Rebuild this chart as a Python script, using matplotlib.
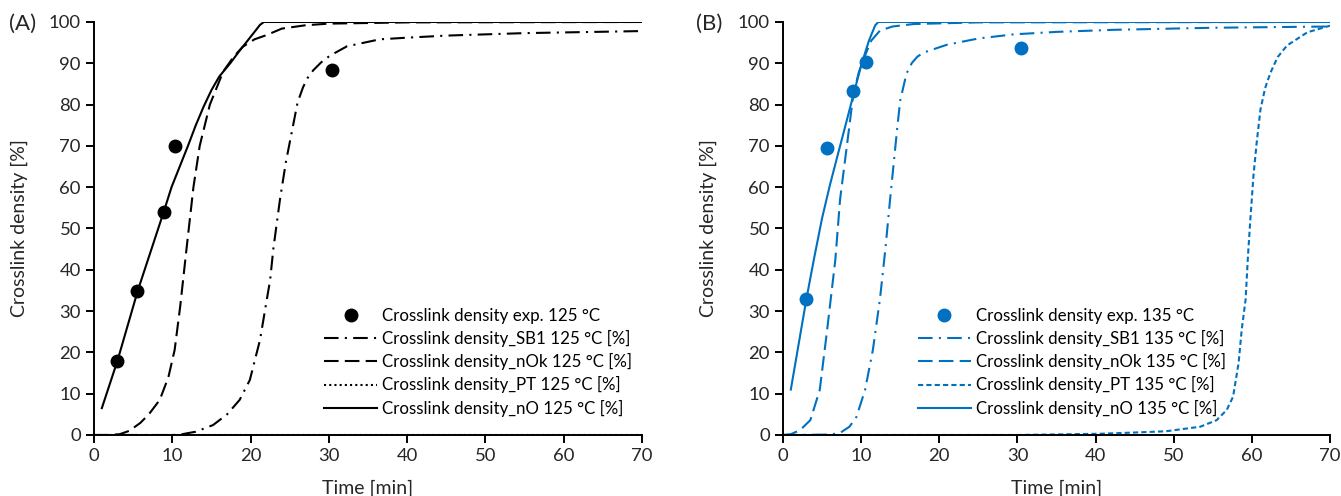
import matplotlib
matplotlib.use("Agg")
import matplotlib.pyplot as plt

plt.rcParams['font.family'] = ['Lato', 'DejaVu Sans']

# ---- data ----
# panel A, 125 °C
a_exp_t = [3, 5.5, 8.9, 10.4, 30.4]
a_exp_y = [18, 34.8, 54, 70, 88.4]

a_sb1_t = [0, 10, 11, 13, 15.2, 17, 18.6, 19.9, 21.2, 22.5, 22.9, 23.75, 24.5, 25.4, 26, 26.7, 27.3, 28, 29, 30.1, 32.3, 36.5, 40, 45, 55, 70]
a_sb1_y = [0, 0, 0.1, 0.8, 2.4, 5, 8.5, 13.3, 23, 37.6, 45, 57, 66, 74.7, 80.5, 84.2, 86.5, 88.3, 90.2, 91.8, 94.1, 95.8, 96.2, 96.7, 97.3, 97.8]

a_nok_t = [0, 2, 3.3, 4.5, 5.9, 7, 8.4, 9.5, 10.3, 11, 11.8, 12.7, 13.5, 14.8, 16.5, 17.8, 19, 20.5, 22, 24, 27, 30, 40, 70]
a_nok_y = [0, 0, 0.2, 1, 2.9, 5, 8.5, 14, 20.6, 31, 44.8, 60, 70, 80, 88, 91.5, 94, 95.8, 96.8, 98.4, 99.2, 99.6, 99.9, 100]

a_pt_t = [0, 70]
a_pt_y = [0, 0]

a_no_t = [1, 3, 5.6, 8.9, 9.9, 12, 13, 14, 15, 16, 17.4, 18.5, 19.5, 20.5, 21.2, 21.7, 70]
a_no_y = [6.5, 18, 35, 54, 60, 70, 75, 79.5, 83.5, 86.8, 90, 92.8, 95.2, 97.6, 99.3, 100, 100]

# panel B, 135 °C
b_exp_t = [3, 5.6, 8.9, 10.6, 30.5]
b_exp_y = [32.9, 69.4, 83.2, 90.2, 93.6]

b_sb1_t = [0, 6, 7.3, 8.5, 9.4, 10.5, 11.5, 12.4, 13.1, 13.7, 14.6, 15, 15.8, 16.5, 17.2, 18, 21, 25, 29.5, 35, 42.3, 55, 70]
b_sb1_y = [0, 0.1, 0.5, 2, 4.4, 10.9, 20.6, 32.8, 45, 57, 74, 81, 87.5, 90.1, 91.6, 92.6, 94.5, 96, 97, 97.6, 98.1, 98.6, 98.9]

b_nok_t = [0, 1, 2.2, 3.5, 4.7, 5.6, 6.7, 7.3, 8.2, 9.0, 9.7, 10.3, 11.3, 12.4, 14, 16.7, 25, 70]
b_nok_y = [0, 0.2, 1.2, 3.6, 10.9, 24.7, 42.5, 57, 70.4, 82.5, 87.8, 91, 95.5, 97.9, 98.9, 99.5, 99.9, 100]

b_pt_t = [0, 30, 40.6, 45, 49, 53.4, 55.5, 56.8, 57.6, 58.3, 58.7, 59.2, 59.5, 59.8, 60.2, 60.6, 61.1, 61.7, 62.4, 63.3, 64.5, 67.1, 70]
b_pt_y = [0, 0, 0.3, 0.6, 0.9, 2, 3.6, 6.1, 9.3, 17.4, 25.5, 32.8, 43.3, 52, 62.7, 70.5, 78.8, 84, 87.8, 91.5, 94.3, 97.5, 99.1]

b_no_t = [1, 2, 3, 4, 5, 6, 7, 8, 9, 10, 11, 11.8, 12.2, 70]
b_no_y = [11, 22, 33, 43, 52.5, 60.5, 67.8, 75, 82.3, 89.5, 95.5, 99.2, 100, 100]

blue = '#0070C0'
txt = '#262626'

fig = plt.figure(figsize=(13.41, 4.96), dpi=100)
axA = fig.add_axes([0.0701, 0.123, 0.4087, 0.8327])
axB = fig.add_axes([0.5839, 0.123, 0.4079, 0.8327])


def draw(ax, temp, clr, exp_t, exp_y, sb1, nok, pt, no, pt_style, leg_x):
    ax.plot(exp_t, exp_y, 'o', color=clr, ms=9, mec=clr,
            label='Crosslink density exp. %d °C' % temp, zorder=5)
    ax.plot(sb1[0], sb1[1], color=clr, lw=1.5, dashes=(7, 3, 1, 3),
            label='Crosslink density_SB1 %d °C [%%]' % temp)
    ax.plot(nok[0], nok[1], color=clr, lw=1.5, dashes=(7, 3),
            label='Crosslink density_nOk %d °C [%%]' % temp)
    ax.plot(pt[0], pt[1], color=clr, lw=1.5, dashes=pt_style,
            label='Crosslink density_PT %d °C [%%]' % temp, zorder=1)
    ax.plot(no[0], no[1], color=clr, lw=1.5,
            label='Crosslink density_nO %d °C [%%]' % temp)

    ax.set_xlim(0, 70)
    ax.set_ylim(0, 100)
    ax.set_xticks(range(0, 71, 10))
    ax.set_yticks(range(0, 101, 10))
    for s in ['top', 'right']:
        ax.spines[s].set_visible(False)
    for s in ['left', 'bottom']:
        ax.spines[s].set_linewidth(1.4)
        ax.spines[s].set_zorder(2)
    ax.tick_params(direction='out', length=6, width=1.4, labelsize=13.3,
                   colors='black', labelcolor=txt)
    ax.set_xlabel('Time [min]', fontsize=14, labelpad=11, color=txt)
    ax.set_ylabel('Crosslink density [%]', fontsize=14, labelpad=15, color=txt)
    ax.legend(loc='lower right', bbox_to_anchor=(leg_x, 0.02), frameon=False,
              fontsize=12.2, handlelength=3.1, handletextpad=0.3,
              labelspacing=0.36, borderaxespad=0.2)


draw(axA, 125, 'black', a_exp_t, a_exp_y, (a_sb1_t, a_sb1_y), (a_nok_t, a_nok_y),
     (a_pt_t, a_pt_y), (a_no_t, a_no_y), (1, 1.5), 1.0)
draw(axB, 135, blue, b_exp_t, b_exp_y, (b_sb1_t, b_sb1_y), (b_nok_t, b_nok_y),
     (b_pt_t, b_pt_y), (b_no_t, b_no_y), (2.5, 1.5), 0.828)

fig.text(0.007, 0.952, '(A)', fontsize=16, color=txt, va='center')
fig.text(0.519, 0.952, '(B)', fontsize=16, color=txt, va='center')

fig.savefig('out.png', dpi=100)
